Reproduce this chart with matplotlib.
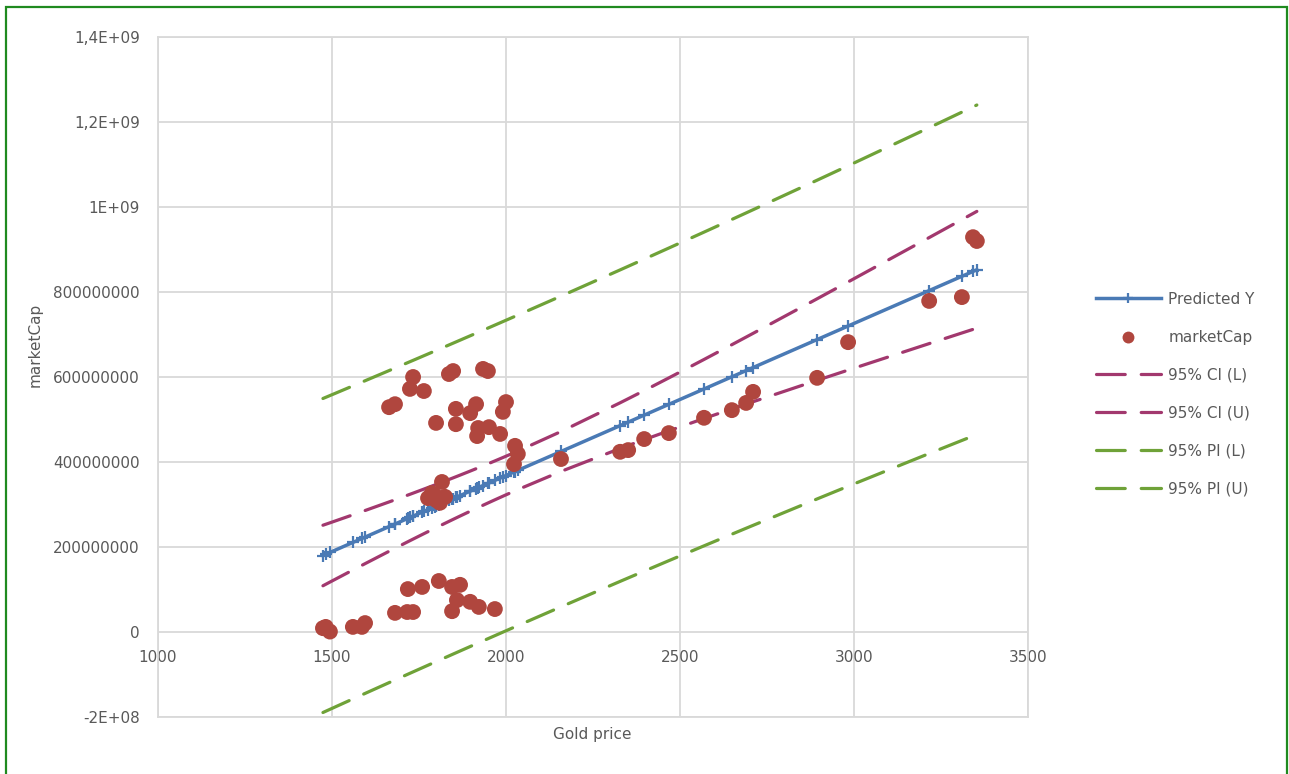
"""
Gold price vs marketCap: scatter, linear fit (Predicted Y) and 95% CI / PI bands.
"""
import numpy as np
import matplotlib
matplotlib.use('Agg')  # no display
import matplotlib.pyplot as plt
from matplotlib.patches import Rectangle

gold_price = [
    1474, 1482, 1494, 1560, 1586, 1595, 1681, 1716, 1733, 1718,
    1759, 1807, 1845, 1868, 1859, 1897, 1922, 1845, 1968,
    1733, 1724, 1764, 1664, 1681, 1836, 1848, 1934, 1948, 1856,
    1914, 1897, 2000, 1991, 1799, 1856, 1920, 1951, 1917, 1983,
    2026, 2034, 2023, 2158, 1816, 1787, 1776, 1825, 1810, 1800, 1795,
    2328, 2351, 2397, 2468, 2569, 2649, 2690, 2710, 2894, 2983,
    3216, 3310, 3342, 3353,
]
market_cap_mln = [
    9, 12, 1, 12, 12, 21, 45, 47, 47, 101,
    106, 120, 106, 111, 75, 71, 59, 49, 54,
    600, 572, 567, 529, 536, 607, 614, 619, 614, 525,
    536, 515, 541, 518, 492, 489, 480, 482, 461, 466,
    438, 419, 395, 407, 353, 327, 315, 318, 304, 310, 322,
    424, 428, 454, 468, 504, 522, 539, 565, 598, 682,
    779, 788, 929, 920,
]

x_ticks = [1000, 1500, 2000, 2500, 3000, 3500]
y_ticks = [-2e8, 0, 2e8, 4e8, 6e8, 8e8, 1e9, 1.2e9, 1.4e9]
y_tick_labels = ['-2E+08', '0', '200000000', '400000000', '600000000',
                 '800000000', '1E+09', '1,2E+09', '1,4E+09']

T_CRIT = 2.0  # t(0.975, n-2) for ~60 degrees of freedom

TEXT = '#595959'
GRID = '#D9D9D9'
BLUE = '#4A7AB5'
RED = '#B0463E'
CI_COLOR = '#A2386E'
PI_COLOR = '#6FA238'

# Linear regression and intervals
x = np.array(gold_price, dtype=float)
y = np.array(market_cap_mln, dtype=float) * 1e6
slope, intercept = np.polyfit(x, y, 1)
n = len(x)
resid = y - (intercept + slope * x)
s = np.sqrt(np.sum(resid ** 2) / (n - 2))
x_mean = x.mean()
sxx = np.sum((x - x_mean) ** 2)

xs = np.sort(x)
y_pred = intercept + slope * xs
ci_half = T_CRIT * s * np.sqrt(1.0 / n + (xs - x_mean) ** 2 / sxx)
pi_half = T_CRIT * s * np.sqrt(1.0 + 1.0 / n + (xs - x_mean) ** 2 / sxx)

plt.rcParams['font.family'] = 'DejaVu Sans'
plt.rcParams['font.size'] = 11

fig = plt.figure(figsize=(12.89, 7.74), dpi=100)
ax = fig.add_axes([158 / 1289, 1 - 717 / 774, 870 / 1289, 680 / 774])

ax.plot(xs, y_pred, color=BLUE, lw=2.5, marker='+', ms=9, mew=1.6,
        label='Predicted Y', zorder=3)
ax.scatter(x, y, s=130, color=RED, edgecolors='none', label='marketCap', zorder=5)
dash = dict(lw=2.3, dashes=(9, 5), dash_capstyle='round', zorder=4)
ax.plot(xs, y_pred - ci_half, color=CI_COLOR, label='95% CI (L)', **dash)
ax.plot(xs, y_pred + ci_half, color=CI_COLOR, label='95% CI (U)', **dash)
ax.plot(xs, y_pred - pi_half, color=PI_COLOR, label='95% PI (L)', **dash)
ax.plot(xs, y_pred + pi_half, color=PI_COLOR, label='95% PI (U)', **dash)

ax.set_xlim(1000, 3500)
ax.set_ylim(-2e8, 1.4e9)
ax.set_xticks(x_ticks)
ax.set_yticks(y_ticks)
ax.set_yticklabels(y_tick_labels)
ax.grid(True, color=GRID, lw=1.3, zorder=0)
ax.set_axisbelow(True)

# Excel-style: x axis crosses at y = 0
ax.spines['bottom'].set_position(('data', 0))
ax.spines['bottom'].set_visible(False)
for side in ['left', 'right', 'top']:
    ax.spines[side].set_color(GRID)
    ax.spines[side].set_linewidth(1.3)
ax.axhline(-2e8, color=GRID, lw=1.3, clip_on=False, zorder=0)
ax.tick_params(axis='both', length=0, colors=TEXT, labelsize=11)
ax.tick_params(axis='x', pad=13)
ax.tick_params(axis='y', pad=13)

fig.text(592 / 1289, 1 - 735 / 774, 'Gold price', color=TEXT, fontsize=11,
         ha='center', va='center')
fig.text(35 / 1289, 1 - 345 / 774, 'marketCap', color=TEXT, fontsize=11,
         ha='center', va='center', rotation=90)

leg = fig.legend(loc='upper left', bbox_to_anchor=(1088 / 1289, 1 - 284 / 774),
                 frameon=False, borderpad=0, handlelength=4.3, handletextpad=0.45,
                 labelspacing=1.5, fontsize=11, markerscale=0.75)
for t in leg.get_texts():
    t.set_color(TEXT)

fig.patches.append(Rectangle((6 / 1289, -0.05), 1281 / 1289, 1.05 - 7 / 774,
                             transform=fig.transFigure, fill=False,
                             edgecolor='#1F8A1F', lw=1.6))

fig.savefig('out.png', dpi=100)
